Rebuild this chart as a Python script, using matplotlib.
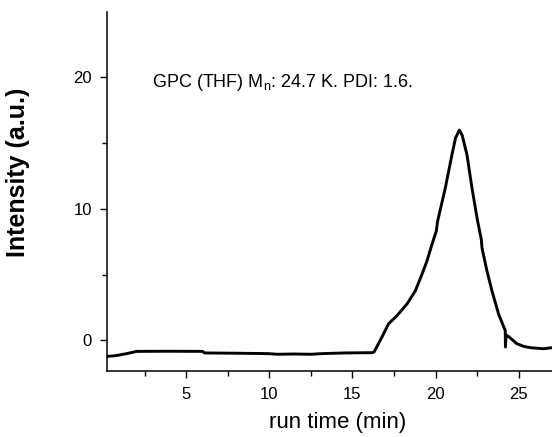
import matplotlib
matplotlib.use("Agg")
import matplotlib.pyplot as plt

plt.rcParams["font.family"] = ["Liberation Sans", "DejaVu Sans"]
plt.rcParams["mathtext.default"] = "regular"

# GPC trace (run time in min, intensity in a.u.)
run_time = [0.26, 0.8, 1.43, 2.03, 4.0, 6.0, 6.1, 8.0, 9.9, 10.5, 11.5,
            12.5, 13.2, 14.5, 16.17, 16.3, 16.77, 17.17, 17.68, 18.28,
            18.78, 19.18, 19.48, 19.78, 20.04, 20.12, 20.58, 20.98, 21.2,
            21.43, 21.6, 21.89, 22.19, 22.53, 22.75, 22.79, 23.09, 23.39,
            23.79, 24.19, 24.2, 24.24, 24.39, 24.89, 25.3, 25.7, 26.5, 27.0]
intensity = [-1.21, -1.15, -1.0, -0.83, -0.82, -0.83, -0.95, -0.97, -1.0,
             -1.05, -1.03, -1.05, -1.0, -0.95, -0.93, -0.88, 0.25, 1.26,
             1.89, 2.77, 3.77, 5.03, 6.04, 7.3, 8.3, 9.06, 11.57, 14.1,
             15.4, 16.0, 15.6, 14.1, 11.57, 9.06, 7.67, 7.04, 5.28, 3.77,
             2.0, 0.75, -0.5, 0.4, 0.3, -0.25, -0.45, -0.55, -0.63, -0.55]

x_major = [5, 10, 15, 20, 25]
x_minor = [2.5, 7.5, 12.5, 17.5, 22.5]
y_major = [0, 10, 20]
y_minor = [5, 15]

fig = plt.figure(figsize=(5.52, 4.37), dpi=100)
ax = fig.add_axes([0.1944, 0.1517, 0.8056, 0.8215])

ax.plot(run_time, intensity, color="black", linewidth=2.1)

ax.set_xlim(0.26, 27.0)
ax.set_ylim(-2.3, 25)
ax.set_xticks(x_major)
ax.set_xticks(x_minor, minor=True)
ax.set_yticks(y_major)
ax.set_yticks(y_minor, minor=True)

for side in ("top", "right"):
    ax.spines[side].set_visible(False)
for side in ("bottom", "left"):
    ax.spines[side].set_linewidth(1.1)
ax.tick_params(which="major", length=5, width=1.0, labelsize=12)
ax.tick_params(axis="x", which="major", pad=7)
ax.tick_params(axis="y", which="major", pad=6)
ax.tick_params(which="minor", length=3.8, width=1.0)

ax.set_xlabel("run time (min)", fontsize=16)
ax.xaxis.set_label_coords(0.519, -0.115)
ax.set_ylabel("Intensity (a.u.)", fontsize=18, fontweight="bold")
ax.yaxis.set_label_coords(-0.174, 0.552)

ax.text(2.94, 19.25, "GPC (THF) M$_n$: 24.7 K. PDI: 1.6.", fontsize=13,
        ha="left", va="baseline")

fig.savefig("out.png", dpi=100)
